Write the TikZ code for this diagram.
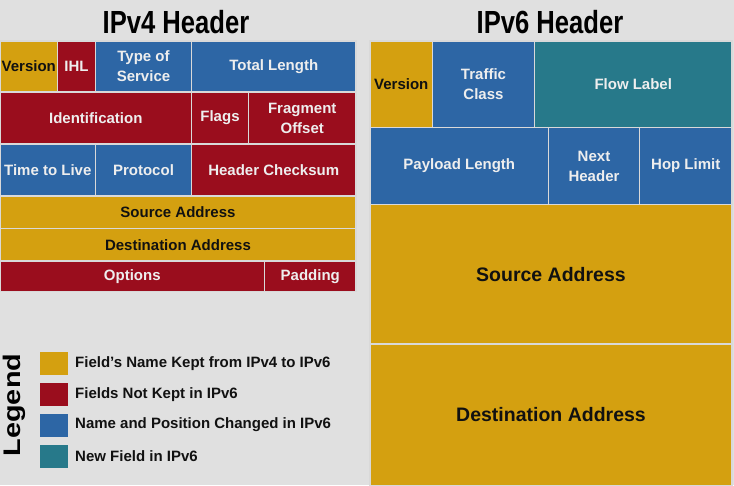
\documentclass[tikz,border=0pt]{standalone}
\usepackage{fontspec}
\setmainfont{Liberation Sans}
\newfontfamily\titlefont[FakeStretch=0.8]{Liberation Sans}
\newfontfamily\legendfont[FakeStretch=1.2]{Liberation Sans}

\definecolor{bgGray}{HTML}{E0E0E0}
\definecolor{sepGray}{HTML}{D9D9D9}
\definecolor{keptGold}{HTML}{D4A010}
\definecolor{droppedRed}{HTML}{9A0D1D}
\definecolor{movedBlue}{HTML}{2D66A5}
\definecolor{newTeal}{HTML}{27798A}
\definecolor{lightText}{HTML}{EEEEEE}
\definecolor{darkText}{HTML}{111111}

\tikzset{
  field/.style={draw=sepGray, line width=1.5pt, inner sep=0pt, outer sep=0pt,
    align=center, font=\bfseries\fontsize{15}{20}\selectfont},
  kept/.style={field, fill=keptGold, text=darkText},
  dropped/.style={field, fill=droppedRed, text=lightText},
  moved/.style={field, fill=movedBlue, text=lightText},
  newfield/.style={field, fill=newTeal, text=lightText},
  bigtext/.style={font=\bfseries\fontsize{19.5}{24}\selectfont},
  headertitle/.style={anchor=base, font=\titlefont\bfseries\fontsize{32}{36}\selectfont, text=black},
  swatch/.style={inner sep=0pt, outer sep=0pt, minimum width=28pt, minimum height=23pt},
  legendtext/.style={anchor=west, inner sep=0pt, text=darkText, font=\bfseries\fontsize{15}{18}\selectfont}
}

% #1 style, #2 name, #3 left, #4 top, #5 right, #6 bottom, #7 label
\newcommand{\fieldbox}[7]{%
  \node[#1, minimum width={(#5-#3)*1pt}, minimum height={(#6-#4)*1pt}]
    (#2) at ({(#3+#5)/2},{(#4+#6)/2}) {#7};}

\begin{document}
\begin{tikzpicture}[x=1pt, y=-1pt]
  \fill[bgGray] (0,0) rectangle (734,485);
  \useasboundingbox (0,0) rectangle (734,485);

  % titles
  \node[headertitle] (v4title) at (176,33) {IPv4 Header};
  \node[headertitle] (v6title) at (550,33) {IPv6 Header};

  % IPv4 header fields
  \fieldbox{kept}{v4ver}{0}{41}{57.5}{92}{Version}
  \fieldbox{dropped}{v4ihl}{57.5}{41}{95.5}{92}{IHL}
  \fieldbox{moved}{v4tos}{95.5}{41}{191.5}{92}{Type of\\Service}
  \fieldbox{moved}{v4len}{191.5}{41}{356}{92}{Total Length}

  \fieldbox{dropped}{v4id}{0}{92}{191.5}{144}{Identification}
  \fieldbox{dropped}{v4flags}{191.5}{92}{248.5}{144}{Flags}
  \fieldbox{dropped}{v4frag}{248.5}{92}{356}{144}{Fragment\\Offset}

  \fieldbox{moved}{v4ttl}{0}{144}{95.5}{196}{Time to Live}
  \fieldbox{moved}{v4proto}{95.5}{144}{191.5}{196}{Protocol}
  \fieldbox{dropped}{v4csum}{191.5}{144}{356}{196}{Header Checksum}

  \fieldbox{kept}{v4src}{0}{196}{356}{228.5}{Source Address}
  \fieldbox{kept}{v4dst}{0}{228.5}{356}{261}{Destination Address}

  \fieldbox{dropped}{v4opt}{0}{261}{264.5}{291.5}{Options}
  \fieldbox{dropped}{v4pad}{264.5}{261}{356}{291.5}{Padding}

  % IPv6 header fields
  \fieldbox{kept}{v6ver}{370}{41}{432.5}{127.5}{Version}
  \fieldbox{moved}{v6tc}{432.5}{41}{534.5}{127.5}{Traffic\\Class}
  \fieldbox{newfield}{v6flow}{534.5}{41}{732}{127.5}{Flow Label}

  \fieldbox{moved}{v6plen}{370}{127.5}{548.5}{204.5}{Payload Length}
  \fieldbox{moved}{v6next}{548.5}{127.5}{639.5}{204.5}{Next\\Header}
  \fieldbox{moved}{v6hop}{639.5}{127.5}{732}{204.5}{Hop Limit}

  \fieldbox{kept,bigtext}{v6src}{370}{204.5}{732}{344}{Source Address}
  \fieldbox{kept,bigtext}{v6dst}{370}{344}{732}{486}{Destination Address}

  % legend
  \node[rotate=90, inner sep=0pt, text=black,
        font=\legendfont\bfseries\fontsize{24}{28}\selectfont] (legendtitle) at (14.5,405) {Legend};

  \node[swatch, fill=keptGold, anchor=north west] (swkept) at (40,352) {};
  \node[swatch, fill=droppedRed, anchor=north west] (swdropped) at (40,383) {};
  \node[swatch, fill=movedBlue, anchor=north west] (swmoved) at (40,413.5) {};
  \node[swatch, fill=newTeal, anchor=north west] (swnew) at (40,444.5) {};

  \node[legendtext] (lgkept) at (75,363.5) {Field’s Name Kept from IPv4 to IPv6};
  \node[legendtext] (lgdropped) at (75,394.5) {Fields Not Kept in IPv6};
  \node[legendtext] (lgmoved) at (75,425) {Name and Position Changed in IPv6};
  \node[legendtext] (lgnew) at (75,456) {New Field in IPv6};
\end{tikzpicture}
\end{document}
